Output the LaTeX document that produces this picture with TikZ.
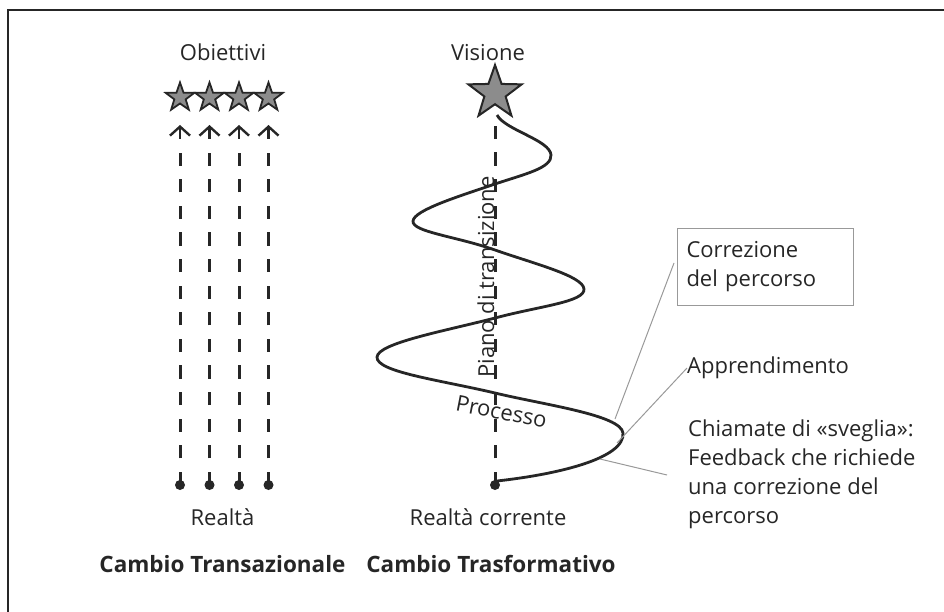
\documentclass[tikz,border=0pt]{standalone}
\usepackage{fontspec}
\setmainfont{Open Sans}
\usetikzlibrary{shapes.geometric,arrows.meta}
\begin{document}
\begin{tikzpicture}[x=1pt,y=-1pt,
  txt/.style={font=\fontsize{22}{29}\selectfont, text=black!85, inner sep=0pt},
  ttl/.style={font=\fontsize{22.5}{27}\selectfont\bfseries, text=black!85, inner sep=0pt},
  smallstar/.style={star, star points=5, star point ratio=2.5, minimum size=30pt, inner sep=0pt, draw=black!85, fill=black!45, line width=1.8pt},
  bigstar/.style={star, star points=5, star point ratio=2.5, minimum size=56pt, inner sep=0pt, draw=black!85, fill=black!45, line width=2pt},
  dot/.style={circle, fill=black!85, minimum size=10pt, inner sep=0pt},
  dashline/.style={draw=black!85, line width=3pt, dash pattern=on 13.3pt off 13.3pt},
  uparrow/.style={draw=black!85, line width=2.4pt, -{Straight Barb[length=9pt,width=20pt]}},
  curve/.style={draw=black!85, line width=2.8pt},
  leader/.style={draw=black!40, line width=1pt},
  callbox/.style={draw=black!40, line width=1pt, anchor=north west, minimum width=176pt, minimum height=77pt, inner xsep=9pt, inner ysep=0pt, text width=158pt, align=left, font=\fontsize{22}{29}\selectfont, text=black!85},
]
\useasboundingbox (0,0) rectangle (944,612);
% frame
\draw[black!85, line width=1.5pt] (8,612) -- (8,10) -- (944,10);

% transactional change
\node[txt, anchor=base] (obj) at (223,61) {Obiettivi};
\foreach \i/\x in {1/180,2/209.5,3/239,4/268.5}{
  \node[smallstar] (s\i) at (\x,97.5) {};
  \node[dot] (r\i) at (\x,485) {};
  \coordinate (d\i) at (\x,153);
  \coordinate (a\i) at (\x,139);
  \coordinate (t\i) at (\x,125);
  \draw[dashline] (r\i.center) -- (d\i);
  \draw[uparrow] (a\i) -- (t\i);
}
\node[txt, anchor=base] (real) at (222.5,525) {Realtà};
\node[ttl, anchor=base] (ct1) at (222.5,572) {Cambio Transazionale};

% transformative change
\node[txt, anchor=base] (vis) at (488,61) {Visione};
\node[bigstar] (vstar) at (495,93) {};
\node[dot] (rc) at (495,485) {};
\draw[dashline] (rc.center) -- (495,115);
\draw[curve] (497,481) .. controls (560,474) and (625,458) .. (623,433)
  .. controls (621,415) and (545,405) .. (495,393)
  .. controls (440,380) and (376,372) .. (377,357)
  .. controls (378,343) and (445,331) .. (495,318)
  .. controls (540,306) and (585,302) .. (584,289)
  .. controls (583,276) and (535,264) .. (495,250)
  .. controls (455,236) and (412,232) .. (413,221)
  .. controls (414,210) and (460,196) .. (495,184)
  .. controls (525,174) and (552,168) .. (551,155)
  .. controls (550,140) and (505,130) .. (497,115);
\node[txt, anchor=base, rotate=90] (piano) at (494,277) {Piano di transizione};
\node[txt, anchor=base, rotate=-11] (proc) at (500,419.5) {Processo};
\node[txt, anchor=base] (rcl) at (488,525) {Realtà corrente};
\node[ttl, anchor=base] (ct2) at (491,572) {Cambio Trasformativo};

% callouts
\node[callbox] (corr) at (677,228) {Correzione\\del percorso};
\node[txt, anchor=west] (appr) at (687,368) {Apprendimento};
\node[txt, anchor=north west, align=left] (chiam) at (688,420) {Chiamate di «sveglia»:\\Feedback che richiede\\una correzione del\\percorso};
\coordinate (c1) at (615,419);
\coordinate (c2) at (617,443);
\coordinate (c3) at (600,459);
\coordinate (l1) at (674,263);
\coordinate (l3) at (667,475);
\draw[leader] (l1) -- (c1);
\draw[leader] (appr.west) -- (c2);
\draw[leader] (l3) -- (c3);
\end{tikzpicture}
\end{document}
